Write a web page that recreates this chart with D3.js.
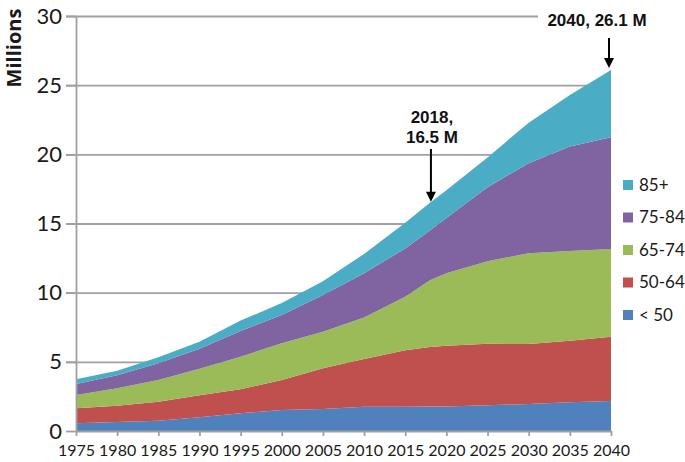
<!DOCTYPE html>
<html>
<head>
<meta charset="utf-8">
<script src="https://cdn.jsdelivr.net/npm/d3@7"></script>
<style>
  body { margin: 0; background: #fff; }
  svg { display: block; }
</style>
</head>
<body>
<div id="chart"></div>
<script>
// years and values (millions)
const years  = [1975, 1980, 1985, 1990, 1995, 2000, 2005, 2010, 2015, 2018, 2020, 2025, 2030, 2035, 2040];
const under50 = [0.56, 0.65, 0.75, 1.00, 1.28, 1.52, 1.59, 1.75, 1.76, 1.77, 1.78, 1.86, 1.95, 2.07, 2.17];
const age5064 = [1.08, 1.18, 1.37, 1.58, 1.73, 2.17, 2.94, 3.45, 4.08, 4.31, 4.38, 4.44, 4.34, 4.46, 4.65];
const age6574 = [0.96, 1.26, 1.57, 1.92, 2.36, 2.65, 2.65, 3.00, 3.86, 4.82, 5.24, 5.98, 6.56, 6.49, 6.34];
const age7584 = [0.80, 0.94, 1.20, 1.45, 1.86, 2.05, 2.65, 3.20, 3.50, 3.60, 4.00, 5.34, 6.51, 7.54, 8.08];
const age85   = [0.34, 0.33, 0.44, 0.50, 0.75, 0.86, 1.00, 1.40, 1.85, 2.00, 2.00, 2.16, 2.93, 3.73, 4.86];

const seriesKeys   = ['< 50', '50-64', '65-74', '75-84', '85+'];
const seriesValues = [under50, age5064, age6574, age7584, age85];
const seriesColors = ['#4F81BD', '#C0504D', '#9BBB59', '#8064A2', '#4BACC6'];

const yTicks = [0, 5, 10, 15, 20, 25, 30];
const xTicks = [1975, 1980, 1985, 1990, 1995, 2000, 2005, 2010, 2015, 2020, 2025, 2030, 2035, 2040];

const annotations = [
    { year: 2018, value: 16.5, lines: ['2018,', '16.5 M'] },
    { year: 2040, value: 26.1, lines: ['2040, 26.1 M'] }
];

// build rows for d3.stack
const rows = years.map((yr, i) => {
    const r = { year: yr };
    seriesKeys.forEach((k, j) => { r[k] = seriesValues[j][i]; });
    return r;
});

const W = 685, H = 462;
const plot = { left: 76, right: 611, top: 16, bottom: 431 };
const gray = '#a0a0a0';
const tickFont = 'Lato, "Open Sans", sans-serif';
const boldFont = '"Liberation Sans", Arial, sans-serif';

const svg = d3.select('#chart').append('svg')
    .attr('width', W)
    .attr('height', H);

const x = d3.scaleLinear().domain([1975, 2040]).range([plot.left, plot.right]);
const y = d3.scaleLinear().domain([0, 30]).range([plot.bottom, plot.top]);

// gridlines, drawn from the right edge leftwards to the tick ends
svg.append('g')
    .attr('transform', `translate(${plot.right},0)`)
    .call(d3.axisLeft(y).tickValues(yTicks.slice(1)).tickSize(plot.right - plot.left + 10).tickFormat(''))
    .call(g => g.select('.domain').remove())
    .call(g => g.selectAll('line').attr('stroke', gray).attr('stroke-width', 1.8));

// stacked areas
const stack = d3.stack().keys(seriesKeys);
const layers = stack(rows);

const area = d3.area()
    .x(d => x(d.data.year))
    .y0(d => y(d[0]))
    .y1(d => y(d[1]));

svg.append('g')
    .selectAll('path')
    .data(layers)
    .join('path')
    .attr('d', area)
    .attr('fill', (d, i) => seriesColors[i]);

// y axis
svg.append('g')
    .attr('transform', `translate(${plot.left},0)`)
    .call(d3.axisLeft(y).tickValues(yTicks).tickSize(10).tickPadding(4).tickSizeOuter(0))
    .call(g => g.select('.domain').attr('stroke', gray).attr('stroke-width', 1.8))
    .call(g => g.selectAll('line').attr('stroke', gray).attr('stroke-width', 1.8))
    .call(g => g.selectAll('text')
        .attr('font-family', tickFont)
        .attr('font-size', '22px')
        .attr('fill', '#1a1a1a'));

// x axis
svg.append('g')
    .attr('transform', `translate(0,${plot.bottom})`)
    .call(d3.axisBottom(x).tickValues(xTicks).tickFormat(d3.format('d')).tickSize(5).tickPadding(9).tickSizeOuter(0))
    .call(g => g.select('.domain').attr('stroke', gray).attr('stroke-width', 1.8))
    .call(g => g.selectAll('line').attr('stroke', gray).attr('stroke-width', 1.8))
    .call(g => g.selectAll('text')
        .attr('font-family', tickFont)
        .attr('font-size', '16px')
        .attr('fill', '#1a1a1a'));

// y axis title
svg.append('text')
    .attr('transform', 'translate(21,48) rotate(-90)')
    .attr('text-anchor', 'middle')
    .attr('font-family', '"Open Sans", Lato, sans-serif')
    .attr('font-weight', 'bold')
    .attr('font-size', '20px')
    .attr('fill', '#1a1a1a')
    .text('Millions');

// legend, top entry is the top layer
const legend = svg.append('g');
const legendKeys = seriesKeys.slice().reverse();
legendKeys.forEach((k, i) => {
    const cy = 185 + i * 32.5;
    legend.append('rect')
        .attr('x', 623)
        .attr('y', cy - 5)
        .attr('width', 10)
        .attr('height', 10)
        .attr('fill', seriesColors[seriesKeys.indexOf(k)]);
    legend.append('text')
        .attr('x', 639)
        .attr('y', cy)
        .attr('dy', '0.35em')
        .attr('font-family', tickFont)
        .attr('font-size', '17px')
        .attr('fill', '#1a1a1a')
        .text(k);
});

// annotations with arrows
function arrow(ax, y1, y2) {
    svg.append('line')
        .attr('x1', ax).attr('x2', ax)
        .attr('y1', y1).attr('y2', y2 - 8)
        .attr('stroke', '#000')
        .attr('stroke-width', 2);
    svg.append('path')
        .attr('d', `M${ax - 5},${y2 - 10} L${ax + 5},${y2 - 10} L${ax},${y2} Z`)
        .attr('fill', '#000');
}

// 2018
const a1 = annotations[0];
const a1x = x(a1.year) + 1;
a1.lines.forEach((t, i) => {
    svg.append('text')
        .attr('x', a1x + 1)
        .attr('y', 123 + i * 20)
        .attr('text-anchor', 'middle')
        .attr('font-family', boldFont)
        .attr('font-weight', 'bold')
        .attr('font-size', '17px')
        .attr('fill', '#111')
        .text(t);
});
arrow(a1x, 149, y(a1.value) - 1);

// 2040, with a white box behind its label
const a2 = annotations[1];
const a2x = x(a2.year) - 2;
svg.append('rect')
    .attr('x', 538)
    .attr('y', 6)
    .attr('width', 120)
    .attr('height', 26)
    .attr('fill', '#fff');
svg.append('text')
    .attr('x', 597)
    .attr('y', 26)
    .attr('text-anchor', 'middle')
    .attr('font-family', boldFont)
    .attr('font-weight', 'bold')
    .attr('font-size', '17px')
    .attr('fill', '#111')
    .text(a2.lines[0]);
arrow(a2x, 38, y(a2.value) - 2);
</script>
</body>
</html>
